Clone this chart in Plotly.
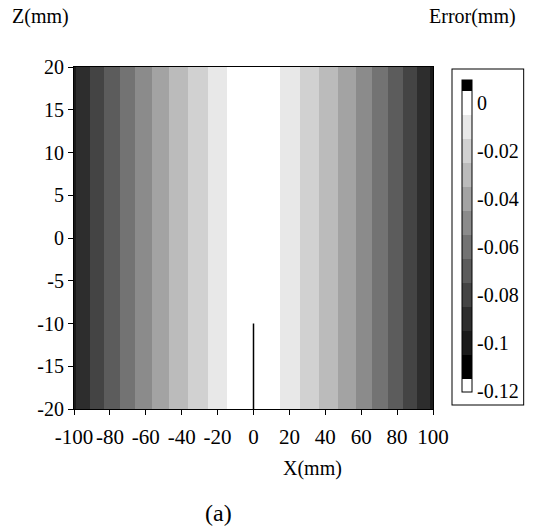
import plotly.graph_objects as go

# ---- data ----
x_edges = [-100, -98.9, -91.1, -83.1, -74.4, -65.9, -56.5, -46.9, -36.5, -25.5, -14.6,
           14.8, 25.9, 36.7, 47.1, 56.9, 66.2, 74.9, 83.3, 90.9, 98.5, 100]
z_edges = [-20, 20]
band_error = [-0.10, -0.09, -0.08, -0.07, -0.06, -0.05, -0.04, -0.03, -0.02, -0.01, 0.0,
              -0.01, -0.02, -0.03, -0.04, -0.05, -0.06, -0.07, -0.08, -0.09, -0.10]
crack_x = [0, 0]
crack_z = [-20, -10]

x_tickvals = [-100, -80, -60, -40, -20, 0, 20, 40, 60, 80, 100]
x_ticktext = ["-100", "-80", "-60", "-40", "-20", "0", "20", "40", "60", "80", "100"]
z_tickvals = [-20, -15, -10, -5, 0, 5, 10, 15, 20]
z_ticktext = ["-20", "-15", "-10", "-5", "0", "5", "10", "15", "20"]
cb_tickvals = [0, -0.02, -0.04, -0.06, -0.08, -0.10, -0.12]
cb_ticktext = ["0", "-0.02", "-0.04", "-0.06", "-0.08", "-0.1", "-0.12"]

# colour levels (value boundaries and grey per interval, from bottom to top)
zmin, zmax = -0.1205, 0.0095
level_bounds = [zmin, -0.115, -0.105, -0.095, -0.085, -0.075, -0.065, -0.055,
                -0.045, -0.035, -0.025, -0.015, -0.005, 0.005, zmax]
level_colors = ["#ffffff", "#000000", "#1a1a1a", "#2d2d2d", "#444444", "#5c5c5c",
                "#737373", "#8b8b8b", "#a3a3a3", "#bbbbbb", "#d1d1d1", "#e8e8e8",
                "#ffffff", "#000000"]

colorscale = []
for i, c in enumerate(level_colors):
    a = (level_bounds[i] - zmin) / (zmax - zmin)
    b = (level_bounds[i + 1] - zmin) / (zmax - zmin)
    colorscale.append([max(0.0, min(1.0, a)), c])
    colorscale.append([max(0.0, min(1.0, b)), c])

FONT = "Liberation Serif"
FS = 20

PW, PH = 359, 341.7  # plot area size in px (for placing paper-referenced text)

fig = go.Figure()
fig.add_trace(go.Heatmap(
    x=x_edges, y=z_edges, z=[band_error],
    zmin=zmin, zmax=zmax, colorscale=colorscale,
    showscale=True, hoverinfo="skip",
    colorbar=dict(
        x=(453 - 74) / PW, xanchor="left", xpad=9,
        y=1 - (236 - 67) / PH, yanchor="middle", ypad=11,
        thickness=10, thicknessmode="pixels",
        len=334, lenmode="pixels",
        outlinewidth=1, outlinecolor="black",
        borderwidth=1, bordercolor="black",
        tickvals=cb_tickvals, ticktext=cb_ticktext,
        ticks="", ticklen=0,
        tickfont=dict(family=FONT, size=FS, color="black"),
    ),
))
fig.add_trace(go.Scatter(
    x=crack_x, y=crack_z, mode="lines",
    line=dict(color="black", width=1.5), showlegend=False, hoverinfo="skip",
))

axis_common = dict(
    showgrid=False, zeroline=False, showline=True, linecolor="black", linewidth=1,
    mirror=True, ticks="outside", ticklen=5, tickcolor="black", automargin=False,
)
fig.update_xaxes(range=[-100, 100], tickvals=x_tickvals, ticktext=x_ticktext,
                 ticklabelstandoff=4, tickfont=dict(family=FONT, size=21, color="black"),
                 **axis_common)
fig.update_yaxes(range=[-20, 20], tickvals=z_tickvals, ticktext=z_ticktext,
                 tickfont=dict(family=FONT, size=FS, color="black"), **axis_common)

fig.update_layout(
    width=534, height=532,
    margin=dict(l=74, r=101, t=67, b=123, autoexpand=False),
    paper_bgcolor="white", plot_bgcolor="white",
    font=dict(family=FONT, size=FS, color="black"),
    showlegend=False,
    annotations=[
        dict(text="Z(mm)", xref="paper", yref="paper", x=(10 - 74) / PW, y=1 + (67 - 17) / PH,
             xanchor="left", yanchor="middle", showarrow=False,
             font=dict(family=FONT, size=FS)),
        dict(text="Error(mm)", xref="paper", yref="paper", x=(427 - 74) / PW, y=1 + (67 - 17) / PH,
             xanchor="left", yanchor="middle", showarrow=False,
             font=dict(family=FONT, size=FS)),
        dict(text="X(mm)", xref="paper", yref="paper", x=(312 - 74) / PW,
             y=-(468 - 409) / PH, xanchor="center", yanchor="middle",
             showarrow=False, font=dict(family=FONT, size=FS)),
        dict(text="(a)", xref="paper", yref="paper", x=(218 - 74) / PW,
             y=-(513 - 409) / PH, xanchor="center", yanchor="middle",
             showarrow=False, font=dict(family=FONT, size=24)),
    ],
)

fig.write_html("out.html", config={"displayModeBar": False},
               post_script="document.body.style.margin='0';")
